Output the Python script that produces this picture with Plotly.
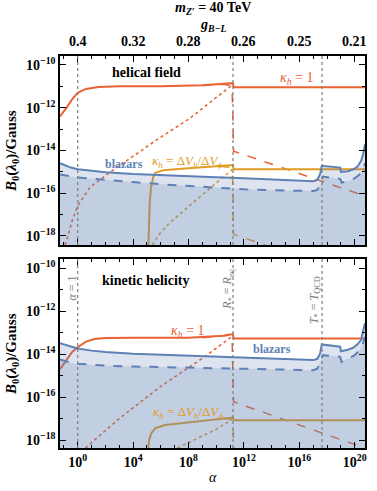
import numpy as np
import plotly.graph_objects as go

# all values are log10(alpha) and log10(B0/Gauss)
RED = "#EB6235"
ORANGE = "#E19C24"
BLUE = "#5E81B5"

# special alpha values (vertical lines): alpha=1, R*=Req, T*=TQCD
alpha_marks = [0.0, 11.21, 17.64]
mark_labels = ["<i>α</i> = 1", "<i>R</i><sub>*</sub> = <i>R</i><sub>eq</sub>",
               "<i>T</i><sub>*</sub> = <i>T</i><sub>QCD</sub>"]

# top axis: g_{B-L} at alpha = 10^0, 10^4, ... 10^20
x_major = [0, 4, 8, 12, 16, 20]
g_labels = ["0.4", "0.32", "0.28", "0.26", "0.25", "0.21"]
y_major = [-10, -12, -14, -16, -18]

# ---------------- helical field ----------------
bz_x = [-1.28, -0.5, 0, 1, 2, 4, 6, 8, 10, 12, 14, 16, 17.0, 17.3, 17.5, 17.62,
        18.5, 18.95, 19.0, 19.5, 19.9, 20.2, 20.45, 20.6, 20.74]
hel_bz = [-14.6, -14.8, -14.88, -14.96, -15.02, -15.1, -15.16, -15.2, -15.25, -15.3,
          -15.36, -15.42, -15.44, -15.38, -15.1, -14.72, -14.76, -14.8, -15.0, -14.97,
          -14.88, -14.75, -14.5, -14.2, -13.7]
bzd_x = [-1.28, -0.5, 0, 1, 2, 4, 6, 8, 10, 12, 14, 16, 17.0, 17.3, 17.5, 17.7,
         18.5, 18.95, 19.05, 19.6, 20.0, 20.3, 20.55, 20.74]
hel_bzd = [-15.12, -15.2, -15.26, -15.32, -15.38, -15.48, -15.58, -15.66, -15.74, -15.82,
           -15.86, -15.89, -15.9, -15.85, -15.6, -15.22, -15.28, -15.33, -15.5, -15.42,
           -15.3, -15.15, -14.95, -14.6]

hel_k1_x = [-1.28, -0.8, -0.4, 0, 0.6, 1.5, 3, 6, 9, 10.5, 11.1, 11.2, 11.26, 15, 20.74]
hel_k1 = [-12.4, -12.0, -11.6, -11.3, -11.12, -11.03, -11.0, -11.0, -10.95, -10.88,
          -10.85, -10.85, -11.04, -11.04, -11.04]
hel_k1_dot_x = [-0.92, -0.77, -0.41, 0, 0.89, 2.33, 5.73, 8.11, 11.0, 11.21]
hel_k1_dot = [-18.42, -18.14, -17.3, -16.59, -15.72, -15.02, -13.49, -12.49, -11.01, -10.88]
hel_k1_dash_x = [9, 10.5, 10.9, 11.15, 11.2, 11.25, 20.74]
hel_k1_dash = [-10.96, -10.9, -10.95, -11.2, -12.5, -14.03, -16.13]

hel_kv_x = [5.10, 5.15, 5.2, 5.3, 5.45, 5.6, 6.2, 7.5, 8.6, 10, 11.0, 11.2, 11.26, 15, 20.74]
hel_kv = [-18.42, -17.5, -16.4, -15.7, -15.25, -15.05, -14.92, -14.86, -14.81, -14.75,
          -14.7, -14.68, -14.88, -14.88, -14.88]
hel_kv_dot_x = [5.4, 5.9, 6.7, 8.6, 10.3, 11.0, 11.2]
hel_kv_dot = [-18.42, -17.9, -17.35, -16.28, -15.35, -14.99, -14.85]
hel_kv_dash_x = [10.3, 10.9, 11.12, 11.2, 11.24, 11.37, 13.54]
hel_kv_dash = [-14.74, -14.78, -14.95, -15.5, -17.9, -17.95, -18.42]

# ---------------- kinetic helicity ----------------
kin_bz = [-13.5, -13.65, -13.74, -13.84, -13.9, -13.98, -14.03, -14.07, -14.11, -14.18,
          -14.22, -14.27, -14.28, -14.22, -13.97, -13.55, -13.6, -13.66, -13.87, -13.8,
          -13.7, -13.55, -13.35, -13.0, -12.57]
kin_bzd = [-14.25, -14.4, -14.45, -14.5, -14.54, -14.58, -14.6, -14.62, -14.65, -14.68,
           -14.71, -14.74, -14.75, -14.68, -14.4, -14.05, -14.1, -14.13, -14.36, -14.2,
           -14.05, -13.85, -13.6, -13.2]

kin_k1_x = [-1.28, -0.8, -0.4, 0, 0.6, 1.2, 2, 4, 8, 10.5, 11.1, 11.2, 11.26, 20.74]
kin_k1 = [-14.7, -14.25, -13.9, -13.68, -13.42, -13.3, -13.25, -13.24, -13.24, -13.15,
          -13.08, -13.07, -13.27, -13.27]
kin_k1_dot_x = [0.55, 3, 6, 9, 11.0, 11.21]
kin_k1_dot = [-18.37, -17.0, -15.5, -14.2, -13.25, -13.1]
kin_k1_dash_x = [9, 10.5, 11.0, 11.15, 11.2, 11.25, 20.7]
kin_k1_dash = [-13.24, -13.17, -13.12, -13.4, -15.0, -16.22, -18.37]

kin_kv_x = [5.1, 5.15, 5.3, 5.6, 6.3, 8.0, 10.0, 11.0, 11.2, 11.26, 20.74]
kin_kv = [-18.37, -18.0, -17.7, -17.45, -17.3, -17.18, -17.05, -16.97, -16.95, -17.08, -17.08]
kin_kv_dot_x = [7.2, 8.5, 10.0, 11.0, 11.2]
kin_kv_dot = [-18.37, -17.95, -17.5, -17.1, -16.96]
kin_kv_dash_x = [10.5, 11.0, 11.15, 11.22, 11.27]
kin_kv_dash = [-17.0, -17.02, -17.1, -17.5, -18.37]

X_RANGE = [-1.28, 20.74]
FLOOR = -30


def P(a):
    return 10 ** np.asarray(a, dtype=float)


fig = go.Figure()


def line(xs, ys, ax, color, dash="solid", width=2):
    fig.add_trace(go.Scatter(x=P(xs), y=P(ys), mode="lines", xaxis=ax[0], yaxis=ax[1],
                             line=dict(color=color, dash=dash, width=width),
                             showlegend=False, hoverinfo="skip"))


def fill(xs, ys, ax):
    fx = list(xs) + [xs[-1], xs[0]]
    fy = list(ys) + [FLOOR, FLOOR]
    fig.add_trace(go.Scatter(x=P(fx), y=P(fy), mode="lines", xaxis=ax[0], yaxis=ax[1],
                             fill="toself", fillcolor="rgba(94,129,181,0.21)",
                             line=dict(width=0), showlegend=False, hoverinfo="skip"))


panels = [
    (("x", "y"), hel_bz, hel_bzd,
     (hel_k1_x, hel_k1, hel_k1_dot_x, hel_k1_dot, hel_k1_dash_x, hel_k1_dash),
     (hel_kv_x, hel_kv, hel_kv_dot_x, hel_kv_dot, hel_kv_dash_x, hel_kv_dash)),
    (("x2", "y2"), kin_bz, kin_bzd,
     (kin_k1_x, kin_k1, kin_k1_dot_x, kin_k1_dot, kin_k1_dash_x, kin_k1_dash),
     (kin_kv_x, kin_kv, kin_kv_dot_x, kin_kv_dot, kin_kv_dash_x, kin_kv_dash)),
]

for ax, bz, bzd, k1, kv in panels:
    for c, curves in ((RED, k1), (ORANGE, kv)):
        line(curves[2], curves[3], ax, c, "dot", 1.6)
        line(curves[4], curves[5], ax, c, "dash", 1.5)
        line(curves[0], curves[1], ax, c, "solid", 2)
    fill(bz_x, bz, ax)
    fill(bzd_x, bzd, ax)
    line(bzd_x, bzd, ax, BLUE, "dash", 2)
    line(bz_x, bz, ax, BLUE, "solid", 2)

# vertical reference lines (shape x on a log axis is given in data units)
shapes = []
for yref, xref in (("y domain", "x"), ("y2 domain", "x2")):
    for a in P(alpha_marks):
        shapes.append(dict(type="line", xref=xref, yref=yref, x0=a, x1=a, y0=0, y1=1,
                           line=dict(color="rgb(125,125,125)", width=1.2, dash="dot")))

SERIF = "Liberation Serif"
minor_x = list(range(-1, 21))
minor_y = list(range(-18, -9))

xcommon = dict(type="log", range=X_RANGE, showgrid=False, zeroline=False, showline=True,
               linecolor="black", linewidth=1.5, mirror="allticks", ticks="inside",
               ticklen=6, tickcolor="black", tickvals=P(x_major).tolist(),
               minor=dict(tickvals=P(minor_x).tolist(), ticks="inside", ticklen=3,
                          tickcolor="black"),
               tickfont=dict(family=SERIF, size=14, color="black"), automargin=False)
ycommon = dict(type="log", showgrid=False, zeroline=False, showline=True,
               linecolor="black", linewidth=1.5, mirror="allticks", ticks="inside",
               ticklen=6, tickcolor="black", tickvals=P(y_major).tolist(),
               ticktext=["<b>10<sup>−%d</sup></b>" % (-v) for v in y_major],
               minor=dict(tickvals=P(minor_y).tolist(), ticks="inside", ticklen=3,
                          tickcolor="black"),
               tickfont=dict(family=SERIF, size=14, color="black"), automargin=False)

fig.update_layout(
    width=377, height=491, plot_bgcolor="white", paper_bgcolor="white",
    margin=dict(l=60, r=12, t=56, b=43),
    shapes=shapes,
    xaxis=dict(xcommon, anchor="y", showticklabels=False),
    xaxis2=dict(xcommon, anchor="y2",
                ticktext=["<b>10<sup>%d</sup></b>" % v for v in x_major]),
    yaxis=dict(ycommon, domain=[0.518, 1], range=[-18.42, -9.58]),
    yaxis2=dict(ycommon, domain=[0, 0.482], range=[-18.37, -9.58]),
)

ann = []


def txt(x, y, s, xr, yr, color="black", size=14, angle=0):
    ann.append(dict(x=x, y=y, xref=xr, yref=yr, text=s, showarrow=False,
                    xanchor="center", yanchor="middle", textangle=angle,
                    font=dict(family=SERIF, size=size, color=color)))


# panel labels
txt(5.0, -10.37, "<b>helical field</b>", "x", "y")
txt(15.84, -10.65, "<i>κ<sub>h</sub></i> = 1", "x", "y", RED, 14)
txt(3.34, -14.62, "<b>blazars</b>", "x", "y", BLUE, 12)
txt(7.9, -14.5, "<i>κ<sub>h</sub></i> = Δ<i>V<sub>h</sub></i>/Δ<i>V<sub>ϕ</sub></i>",
    "x", "y", ORANGE, 13)

txt(4.93, -10.56, "<b>kinetic helicity</b>", "x2", "y2")
txt(7.96, -12.93, "<i>κ<sub>h</sub></i> = 1", "x2", "y2", RED, 14)
txt(14.03, -13.77, "<b>blazars</b>", "x2", "y2", BLUE, 12)
txt(7.96, -16.7, "<i>κ<sub>h</sub></i> = Δ<i>V<sub>h</sub></i>/Δ<i>V<sub>ϕ</sub></i>",
    "x2", "y2", ORANGE, 13)

mark_pos = [(-0.38, -10.93), (10.89, -10.98), (17.13, -11.49)]
for (mx, my), s in zip(mark_pos, mark_labels):
    txt(mx, my, s, "x2", "y2", "rgb(125,125,125)", 12, -90)

# top axis tick labels (g_{B-L})
for xv, g in zip(x_major, g_labels):
    txt(xv, 1.038, "<b>%s</b>" % g, "x", "paper", size=14)

# titles
txt(0.5, 1.122, "<b><i>m</i><sub><i>Z′</i></sub> = 40 TeV</b>", "paper", "paper", size=14)
txt(0.5, 1.079, "<b><i>g</i><sub><i>B−L</i></sub></b>", "paper", "paper", size=14)
txt(0.5, -0.074, "<i>α</i>", "paper", "paper", size=14)
for yc in (0.758, 0.24):
    txt(-0.157, yc, "<b><i>B</i><sub>0</sub>(<i>λ</i><sub>0</sub>)/Gauss</b>",
        "paper", "paper", size=15, angle=-90)

fig.update_layout(annotations=ann)
fig.write_html("out.html", config={"displayModeBar": False},
               post_script="document.body.style.margin='0';")
